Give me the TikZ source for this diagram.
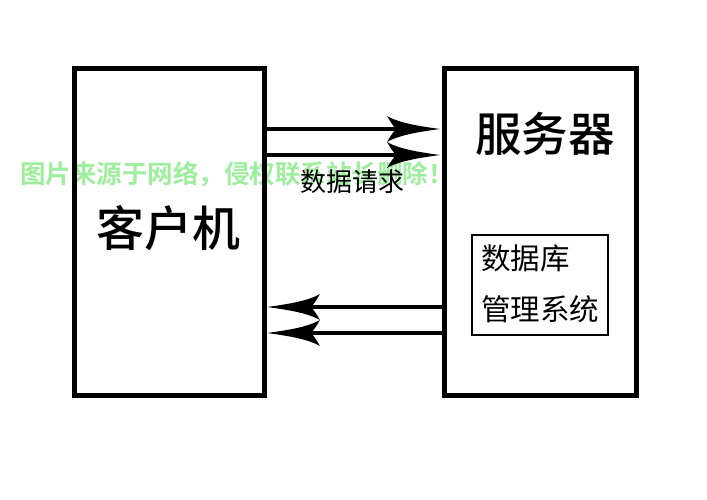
\documentclass[tikz,border=0pt]{standalone}
\usepackage{fontspec}
\newfontfamily\cjk{Noto Sans CJK SC}
\newfontfamily\cjkmed{Noto Sans CJK SC Medium}
\newfontfamily\cjkbold{Noto Sans CJK SC Bold}
\definecolor{wmgreen}{RGB}{158,238,158}
\pgfdeclarearrow{
  name = Barb,
  parameters = {},
  setup code = {
    \pgfarrowssettipend{0pt}
    \pgfarrowssetlineend{-44pt}
    \pgfarrowssetbackend{-53pt}
    \pgfarrowssetvisualbackend{-44pt}
    \pgfarrowsupperhullpoint{-53pt}{13pt}
    \pgfarrowshullpoint{0pt}{0pt}
  },
  drawing code = {
    \pgfpathmoveto{\pgfpointorigin}
    \pgfpathcurveto{\pgfpoint{-18pt}{2.5pt}}{\pgfpoint{-40pt}{5.5pt}}{\pgfpoint{-53pt}{13pt}}
    \pgfpathcurveto{\pgfpoint{-50pt}{8pt}}{\pgfpoint{-47pt}{3pt}}{\pgfpoint{-44pt}{0pt}}
    \pgfpathcurveto{\pgfpoint{-47pt}{-3pt}}{\pgfpoint{-50pt}{-8pt}}{\pgfpoint{-53pt}{-13pt}}
    \pgfpathcurveto{\pgfpoint{-40pt}{-5.5pt}}{\pgfpoint{-18pt}{-2.5pt}}{\pgfpointorigin}
    \pgfpathclose
    \pgfusepathqfill
  }
}
\tikzset{
  bigbox/.style={draw, line width=5pt, minimum width=#1, minimum height=327pt, inner sep=0pt},
  dbbox/.style={draw, line width=1.8pt, minimum width=136pt, minimum height=100pt, inner sep=0pt},
  flow/.style={line width=3.5pt, -Barb},
  txt/.style={font=\cjk, inner sep=0pt, text=black},
  wm/.style={font=\cjkbold\fontsize{25.5}{26}\selectfont, text=wmgreen, inner sep=0pt, anchor=west}
}
\begin{document}
\begin{tikzpicture}[x=1pt,y=-1pt]
  \useasboundingbox (0,0) rectangle (707,500);
  \fill[white] (0,0) rectangle (707,500);
  % watermark
  \node[wm] (wmark) at (20,174) {图片来源于网络，侵权联系站长删除！};
  % boxes
  \node[bigbox=190pt] (client) at (169.5,232) {};
  \node[bigbox=191.5pt] (server) at (540.25,232) {};
  \node[dbbox] (db) at (540,285) {};
  % labels
  \node[txt, font=\cjkmed\fontsize{48}{50}\selectfont] (lclient) at (168,228) {客户机};
  \node[txt, font=\cjkmed\fontsize{46.5}{48}\selectfont] (lserver) at (545,134) {服务器};
  \node[txt, font=\cjk\fontsize{29.5}{31}\selectfont, anchor=west] (ldb1) at (481,258.5) {数据库};
  \node[txt, font=\cjk\fontsize{29.5}{31}\selectfont, anchor=west] (ldb2) at (481,309.5) {管理系统};
  \node[txt, font=\cjk\fontsize{26}{28}\selectfont] (lreq) at (352.5,181.5) {数据请求};
  % arrow rows
  \coordinate (r1) at (0,129);
  \coordinate (r2) at (0,155);
  \coordinate (r3) at (0,307);
  \coordinate (r4) at (0,333);
  \draw[flow, shorten >=2pt] (client.east |- r1) -- (server.west |- r1);
  \draw[flow, shorten >=2pt] (client.east |- r2) -- (server.west |- r2);
  \draw[flow] (server.west |- r3) -- (client.east |- r3);
  \draw[flow] (server.west |- r4) -- (client.east |- r4);
\end{tikzpicture}
\end{document}
